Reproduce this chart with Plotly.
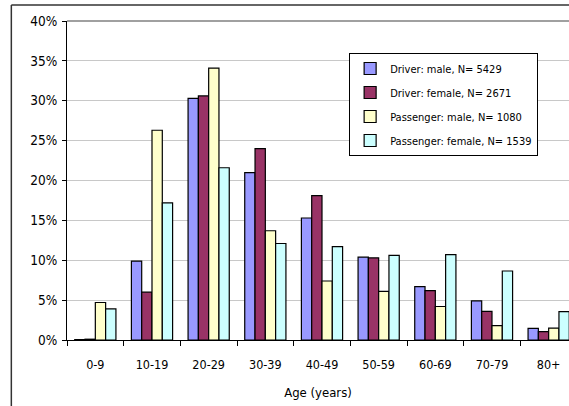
import plotly.graph_objects as go

categories = ["0-9", "10-19", "20-29", "30-39", "40-49", "50-59", "60-69", "70-79", "80+"]
driver_male = [0.05, 9.9, 30.3, 21.0, 15.3, 10.4, 6.7, 4.9, 1.45]
driver_female = [0.1, 6.0, 30.6, 24.0, 18.1, 10.3, 6.2, 3.6, 1.05]
passenger_male = [4.7, 26.3, 34.1, 13.7, 7.4, 6.1, 4.2, 1.8, 1.5]
passenger_female = [3.9, 17.2, 21.6, 12.1, 11.7, 10.6, 10.7, 8.65, 3.55]

series = [
    ("Driver: male, N= 5429", driver_male, "#9999FF"),
    ("Driver: female, N= 2671", driver_female, "#993366"),
    ("Passenger: male, N= 1080", passenger_male, "#FFFFCC"),
    ("Passenger: female, N= 1539", passenger_female, "#CCFFFF"),
]

FONT = "DejaVu Sans Condensed, Liberation Sans, Arial, sans-serif"

fig = go.Figure()
for i, (name, vals, col) in enumerate(series):
    fig.add_trace(go.Bar(
        x=categories, y=vals, name=name, legendgroup=f"g{i}",
        marker=dict(color=col, line=dict(color="black", width=1.2)),
    ))

W, H = 569, 406
L, T, B = 66.7, 21, 66
plot_w = W - L
plot_h = H - T - B
cat_w = 56.7

def px_x(p):
    return (p - L) / plot_w

def px_y(p):
    return (H - B - p) / plot_h

fig.update_layout(
    width=W, height=H,
    margin=dict(l=L, r=0, t=T, b=B, pad=0),
    paper_bgcolor="white", plot_bgcolor="white",
    font=dict(family=FONT, size=12, color="black"),
    barmode="group", bargap=0.273, bargroupgap=0,
    showlegend=True,
    legend=dict(
        x=px_x(349), y=px_y(53), xanchor="left", yanchor="top",
        bgcolor="white", bordercolor="black", borderwidth=1,
        font=dict(family=FONT, size=11, color="black"),
        tracegroupgap=5, itemwidth=30,
    ),
    xaxis=dict(
        range=[-0.5, -0.5 + plot_w / cat_w],
        showline=True, linecolor="black", linewidth=1.2,
        ticks="outside", tickson="boundaries", ticklen=5, tickcolor="black",
        showgrid=False, tickfont=dict(size=12.5), ticklabelstandoff=13,
        title=dict(text="Age (years)", font=dict(size=13), standoff=16),
    ),
    yaxis=dict(
        range=[0, 40], dtick=5, ticksuffix="%",
        showline=True, linecolor="black", linewidth=1.2,
        ticks="outside", ticklen=4, tickcolor="black",
        showgrid=True, gridcolor="#C8C8C8", gridwidth=1,
        zeroline=False, tickfont=dict(size=13.5), ticklabelstandoff=2,
    ),
    shapes=[
        dict(type="line", xref="paper", yref="paper", x0=0, x1=1.05, y0=1, y1=1,
             line=dict(color="#808080", width=1.5)),
        dict(type="line", xref="paper", yref="paper", x0=px_x(11), x1=px_x(11),
             y0=px_y(5), y1=px_y(420), line=dict(color="#333333", width=1.5)),
        dict(type="line", xref="paper", yref="paper", x0=px_x(11), x1=1.05,
             y0=px_y(5), y1=px_y(5), line=dict(color="#333333", width=1.5)),
    ],
)

fig.write_html("out.html")
